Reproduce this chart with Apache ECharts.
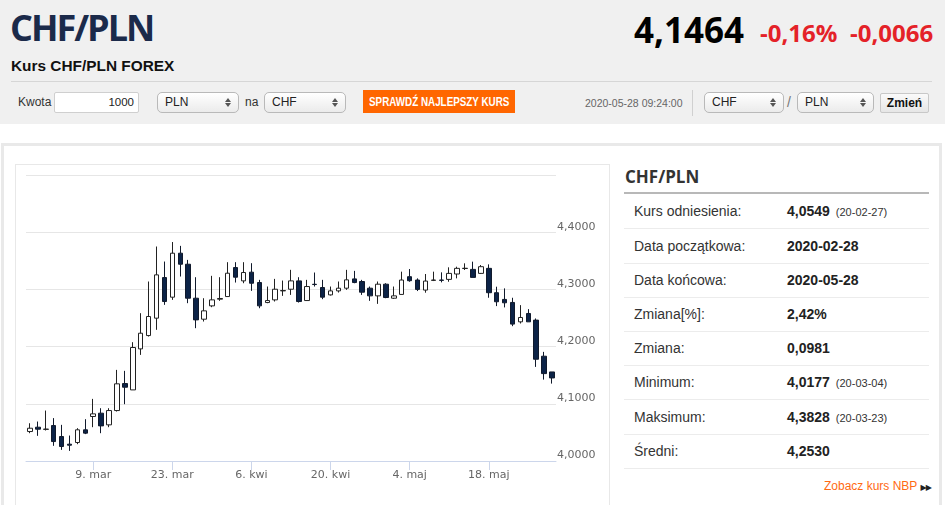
<!DOCTYPE html>
<html><head><meta charset="utf-8">
<script src="https://cdn.jsdelivr.net/npm/echarts@6/dist/echarts.min.js"></script>
<style>
body{margin:0;width:945px;height:505px;overflow:hidden;background:#fff;font-family:'Liberation Sans',Arial,sans-serif;position:relative;}
.a{position:absolute;white-space:nowrap;}
#hdr{left:0;top:0;width:945px;height:124px;background:#f0f0f0;}
.sel{position:absolute;height:21px;box-sizing:border-box;border:1px solid #b9b9b9;border-radius:5px;background:linear-gradient(#ffffff,#ebebeb);font-size:12px;color:#222;line-height:19px;padding-left:7px;}
.arr{position:absolute;right:7px;top:5px;width:6px;height:10px;}
.arr i{position:absolute;left:0;width:0;height:0;border-left:3px solid transparent;border-right:3px solid transparent;}
.arr i.u{top:0;border-bottom:4px solid #555;}
.arr i.d{top:5px;border-top:4px solid #555;}
.row{position:absolute;left:624px;width:305px;height:34px;border-bottom:1px solid #ececec;}
.lab{position:absolute;left:10px;top:0;line-height:34px;font-size:14px;color:#333;}
.val{position:absolute;left:163px;top:0;line-height:34px;font-size:14px;font-weight:bold;color:#222;}
.dt{font-size:11px;font-weight:normal;color:#333;margin-left:6px;}
</style></head>
<body>
<div class="a" id="hdr"></div>
<div class="a" style="left:10px;top:10px;font-family:'Open Sans';font-weight:700;font-size:36px;line-height:36px;color:#1b2a4a;letter-spacing:-2px;">CHF/PLN</div>
<div class="a" style="left:11px;top:57px;font-weight:bold;font-size:15.4px;line-height:18px;color:#111;">Kurs CHF/PLN FOREX</div>
<div class="a" style="left:634px;top:12px;font-family:'Open Sans';font-weight:700;font-size:35px;line-height:35px;color:#000;">4,1464</div>
<div class="a" style="left:760px;top:21px;font-family:'Open Sans';font-weight:700;font-size:24px;line-height:24px;color:#e42228;">-0,16%</div>
<div class="a" style="left:850px;top:21px;font-family:'Open Sans';font-weight:700;font-size:24px;line-height:24px;color:#e42228;">-0,0066</div>
<div class="a" style="left:11px;top:81px;width:921px;height:1px;background:#d6d6d6;"></div>

<div class="a" style="left:18px;top:95px;font-size:12px;line-height:14px;color:#333;">Kwota</div>
<div class="a" style="left:54px;top:92px;width:85px;height:21px;box-sizing:border-box;border:1px solid #cfcfcf;border-radius:2px;background:#fff;font-size:11.5px;line-height:19px;text-align:right;padding-right:4px;color:#222;">1000</div>
<div class="sel" style="left:157px;top:92px;width:82px;">PLN<span class="arr"><i class="u"></i><i class="d"></i></span></div>
<div class="a" style="left:245px;top:95px;font-size:12px;line-height:14px;color:#333;">na</div>
<div class="sel" style="left:264px;top:92px;width:82px;">CHF<span class="arr"><i class="u"></i><i class="d"></i></span></div>
<div class="a" style="left:363px;top:90px;width:152px;height:23px;background:#ff6600;"></div>
<div class="a" style="left:369px;top:95px;font-size:12px;line-height:14px;font-weight:bold;color:#fff;transform:scaleX(0.82);transform-origin:0 0;">SPRAWDŹ NAJLEPSZY KURS</div>
<div class="a" style="left:585px;top:97px;font-size:10.5px;line-height:13px;color:#666;">2020-05-28 09:24:00</div>
<div class="a" style="left:692px;top:90px;width:1px;height:26px;background:#d0d0d0;"></div>
<div class="sel" style="left:704px;top:92px;width:80px;">CHF<span class="arr"><i class="u"></i><i class="d"></i></span></div>
<div class="a" style="left:787px;top:94px;font-size:14px;line-height:16px;color:#777;">/</div>
<div class="sel" style="left:797px;top:92px;width:77px;">PLN<span class="arr"><i class="u"></i><i class="d"></i></span></div>
<div class="a" style="left:880px;top:93px;width:49px;height:20px;box-sizing:border-box;border:1px solid #c8c8c8;border-radius:2px;background:linear-gradient(#fafafa,#e6e6e6);font-size:12px;font-weight:bold;line-height:18px;text-align:center;color:#111;">Zmień</div>

<div class="a" style="left:1px;top:143px;width:935px;height:400px;border:3px solid #e9e9e9;"></div>
<div class="a" style="left:15px;top:164px;width:593px;height:400px;border:1px solid #e8e8e8;"></div>
<div class="a" id="chart" style="left:16px;top:165px;width:592px;height:340px;"></div>

<div class="a" style="left:625px;top:165px;font-family:'Open Sans';font-weight:700;font-size:17px;line-height:24px;color:#333;">CHF/PLN</div>
<div class="a" style="left:624px;top:192px;width:305px;height:2px;background:#b8b8b8;"></div>
<div class="row" style="top:194px;"><span class="lab">Kurs odniesienia:</span><span class="val">4,0549<span class="dt">(20-02-27)</span></span></div>
<div class="row" style="top:229px;"><span class="lab">Data początkowa:</span><span class="val">2020-02-28</span></div>
<div class="row" style="top:263px;"><span class="lab">Data końcowa:</span><span class="val">2020-05-28</span></div>
<div class="row" style="top:297px;"><span class="lab">Zmiana[%]:</span><span class="val">2,42%</span></div>
<div class="row" style="top:331px;"><span class="lab">Zmiana:</span><span class="val">0,0981</span></div>
<div class="row" style="top:365px;"><span class="lab">Minimum:</span><span class="val">4,0177<span class="dt">(20-03-04)</span></span></div>
<div class="row" style="top:400px;"><span class="lab">Maksimum:</span><span class="val">4,3828<span class="dt">(20-03-23)</span></span></div>
<div class="row" style="top:434px;"><span class="lab">Średni:</span><span class="val">4,2530</span></div>
<div class="a" style="left:824px;top:479px;font-size:12px;line-height:14px;color:#ff6a13;">Zobacz kurs NBP <span style="font-family:'DejaVu Sans';font-size:8px;color:#222;letter-spacing:-1px;">▶▶</span></div>

<script>
const dates = ['2020-02-26','2020-02-27','2020-02-28',
'2020-03-02','2020-03-03','2020-03-04','2020-03-05','2020-03-06','2020-03-09','2020-03-10','2020-03-11','2020-03-12','2020-03-13',
'2020-03-16','2020-03-17','2020-03-18','2020-03-19','2020-03-20','2020-03-23','2020-03-24','2020-03-25','2020-03-26','2020-03-27',
'2020-03-30','2020-03-31','2020-04-01','2020-04-02','2020-04-03','2020-04-06','2020-04-07','2020-04-08','2020-04-09','2020-04-10',
'2020-04-13','2020-04-14','2020-04-15','2020-04-16','2020-04-17','2020-04-20','2020-04-21','2020-04-22','2020-04-23','2020-04-24',
'2020-04-27','2020-04-28','2020-04-29','2020-04-30','2020-05-01','2020-05-04','2020-05-05','2020-05-06','2020-05-07','2020-05-08',
'2020-05-11','2020-05-12','2020-05-13','2020-05-14','2020-05-15','2020-05-18','2020-05-19','2020-05-20','2020-05-21','2020-05-22',
'2020-05-25','2020-05-26','2020-05-27','2020-05-28'];
const openV = [4.0515,4.0591,4.0553,4.0620,4.0428,4.0294,4.0323,4.0545,4.0778,4.0836,4.0632,4.0882,4.1354,4.1243,4.1960,4.2193,4.2497,4.3207,4.2864,4.3633,4.3440,4.2846,4.2479,4.2712,4.2829,4.2875,4.3382,4.3149,4.3301,4.3120,4.2770,4.2817,4.2974,4.3003,4.3149,4.2805,4.3090,4.3033,4.2904,4.2974,4.3021,4.3184,4.3138,4.3021,4.2887,4.3091,4.2846,4.2912,4.3222,4.3164,4.2988,4.3158,4.3164,4.3175,4.3269,4.3365,4.3350,4.3280,4.3368,4.2942,4.2825,4.2772,4.2433,4.2579,4.2463,4.1832,4.1557];
const closeV = [4.0573,4.0556,4.0558,4.0340,4.0253,4.0276,4.0545,4.0487,4.0824,4.0614,4.0882,4.1349,4.1290,4.1984,4.2234,4.2526,4.3254,4.2788,4.3633,4.3440,4.2846,4.2467,4.2625,4.2817,4.2841,4.3283,4.3213,4.3295,4.3108,4.2712,4.2805,4.3003,4.2980,4.3149,4.2788,4.3050,4.3085,4.2864,4.2974,4.3021,4.3167,4.3120,4.2951,4.2887,4.3091,4.2858,4.2887,4.3164,4.3152,4.3000,4.3146,4.3164,4.3158,4.3280,4.3368,4.3370,4.3210,4.3397,4.2942,4.2784,4.2766,4.2393,4.2509,4.2433,4.1779,4.1528,4.1452];
const lowV = [4.0486,4.0440,4.0533,4.0265,4.0195,4.0177,4.0294,4.0470,4.0591,4.0486,4.0591,4.0865,4.0993,4.1243,4.1855,4.2176,4.2293,4.2730,4.2817,4.3225,4.2759,4.2322,4.2438,4.2689,4.2800,4.2875,4.3120,4.3108,4.2974,4.2671,4.2759,4.2788,4.2887,4.2904,4.2770,4.2800,4.3050,4.2829,4.2893,4.2945,4.2992,4.3108,4.2904,4.2800,4.2747,4.2846,4.2834,4.2912,4.3134,4.2971,4.2942,4.3146,4.3123,4.3134,4.3193,4.3339,4.3210,4.3269,4.2854,4.2708,4.2685,4.2357,4.2404,4.2433,4.1645,4.1423,4.1353];
const highV = [4.0660,4.0690,4.0882,4.0750,4.0632,4.0445,4.0574,4.0731,4.1086,4.0923,4.0923,4.1593,4.1576,4.2077,4.2584,4.3138,4.3750,4.3487,4.3828,4.3761,4.3516,4.3213,4.2846,4.3237,4.3213,4.3476,4.3476,4.3476,4.3458,4.3167,4.3050,4.3184,4.3155,4.3342,4.3213,4.3167,4.3295,4.3167,4.3050,4.3138,4.3342,4.3324,4.3167,4.3050,4.3138,4.3108,4.3050,4.3310,4.3356,4.3193,4.3269,4.3310,4.3298,4.3386,4.3397,4.3456,4.3485,4.3426,4.3438,4.3047,4.3018,4.2854,4.2725,4.2655,4.2492,4.1908,4.1557];
const tickDates = ['2020-03-09','2020-03-23','2020-04-06','2020-04-20','2020-05-04','2020-05-18'];
const tickLabels = ['9. mar','23. mar','6. kwi','20. kwi','4. maj','18. maj'];

const ohlc = dates.map((d, i) => [openV[i], closeV[i], lowV[i], highV[i]]);
const isTick = (idx, val) => tickDates.indexOf(val) >= 0;

const chart = echarts.init(document.getElementById('chart'));
chart.setOption({
  animation: false,
  grid: { left: 10, right: 52, top: 10, bottom: 44 },
  xAxis: {
    type: 'category', data: dates, boundaryGap: true,
    axisLine: { lineStyle: { color: '#ccd6eb', width: 1 } },
    axisTick: { show: true, alignWithLabel: true, interval: isTick, length: 9, lineStyle: { color: '#ccd6eb' } },
    axisLabel: { interval: isTick, formatter: v => tickLabels[tickDates.indexOf(v)] || '', color: '#666', fontSize: 11, fontFamily: 'DejaVu Sans', margin: 9 },
    splitLine: { show: false }
  },
  yAxis: {
    type: 'value', position: 'right', min: 4.0, max: 4.5, interval: 0.1, scale: true,
    axisLine: { show: false }, axisTick: { show: false },
    splitLine: { lineStyle: { color: '#e6e6e6', width: 1 } },
    axisLabel: { formatter: v => v.toFixed(4).replace('.', ','), color: '#666', fontSize: 11, fontFamily: 'DejaVu Sans', margin: 1, verticalAlign: 'bottom', showMaxLabel: false }
  },
  series: [{
    type: 'candlestick', data: ohlc, barWidth: 5,
    itemStyle: { color: '#ffffff', color0: '#0c2347', borderColor: '#222222', borderColor0: '#111a2c', borderWidth: 1 }
  }]
});
</script>
</body></html>
